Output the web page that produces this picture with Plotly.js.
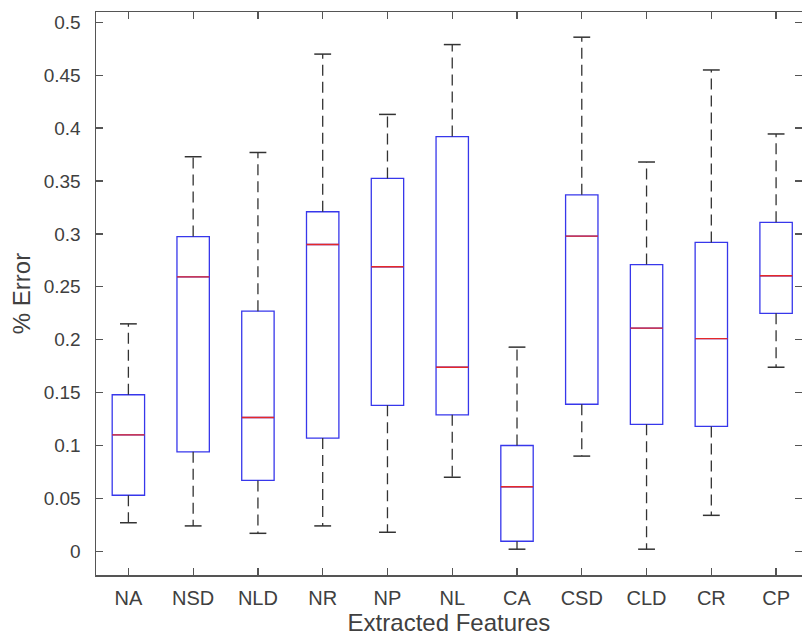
<!DOCTYPE html>
<html>
<head>
<meta charset="utf-8">
<script src="https://cdn.plot.ly/plotly-3.0.1.min.js"></script>
<style>html,body{margin:0;padding:0;background:#fff;}#chart{width:802px;height:639px;}</style>
</head>
<body>
<div id="chart"></div>
<script>
// Data
var categories = ['NA','NSD','NLD','NR','NP','NL','CA','CSD','CLD','CR','CP'];
var lowerWhisker = [0.027, 0.024, 0.017, 0.024, 0.018, 0.070, 0.002, 0.090, 0.002, 0.034, 0.174];
var q1Values     = [0.053, 0.094, 0.067, 0.107, 0.138, 0.129, 0.0095, 0.139, 0.120, 0.118, 0.225];
var medianValues = [0.110, 0.2595, 0.1265, 0.290, 0.269, 0.174, 0.061, 0.298, 0.211, 0.201, 0.2605];
var q3Values     = [0.148, 0.2975, 0.227, 0.321, 0.3525, 0.392, 0.100, 0.337, 0.271, 0.292, 0.311];
var upperWhisker = [0.215, 0.373, 0.377, 0.470, 0.413, 0.479, 0.193, 0.486, 0.368, 0.455, 0.3945];
var yTickValues  = [0, 0.05, 0.1, 0.15, 0.2, 0.25, 0.3, 0.35, 0.4, 0.45, 0.5];
var yTickLabels  = ['0','0.05','0.1','0.15','0.2','0.25','0.3','0.35','0.4','0.45','0.5'];

var positions = categories.map(function(c, i){ return i + 1; });
var boxHalf = 0.25, capHalf = 0.13;

var boxTrace = {
  type: 'box', x: positions, q1: q1Values, median: medianValues, q3: q3Values,
  lowerfence: q1Values, upperfence: q3Values,
  width: 2*boxHalf, whiskerwidth: 0, boxpoints: false,
  line: {color: 'rgb(55,55,235)', width: 1.3}, fillcolor: 'rgba(0,0,0,0)',
  hoverinfo: 'skip', showlegend: false
};

var wx = [], wy = [], cx = [], cy = [], mx = [], my = [];
positions.forEach(function(p, i){
  wx.push(p, p, null, p, p, null);
  wy.push(q3Values[i], upperWhisker[i], null, q1Values[i], lowerWhisker[i], null);
  cx.push(p-capHalf, p+capHalf, null, p-capHalf, p+capHalf, null);
  cy.push(upperWhisker[i], upperWhisker[i], null, lowerWhisker[i], lowerWhisker[i], null);
  mx.push(p-boxHalf, p+boxHalf, null);
  my.push(medianValues[i], medianValues[i], null);
});

var whiskers = {type:'scatter', mode:'lines', x: wx, y: wy, line:{color:'#333', width:1.3, dash:'11px,6px'}, hoverinfo:'skip', showlegend:false};
var caps = {type:'scatter', mode:'lines', x: cx, y: cy, line:{color:'#333', width:1.5}, hoverinfo:'skip', showlegend:false};
var medians = {type:'scatter', mode:'lines', x: mx, y: my, line:{color:'rgb(230,40,40)', width:1.3}, hoverinfo:'skip', showlegend:false};

var fontFam = 'Liberation Sans, Arial, sans-serif';
var layout = {
  width: 802, height: 639,
  margin: {l: 96, r: 0, t: 12, b: 64, pad: 0},
  paper_bgcolor: '#fff', plot_bgcolor: '#fff',
  font: {family: fontFam, size: 19, color: '#404040'},
  xaxis: {
    range: [0.5, 11.4], tickvals: positions, ticktext: categories,
    tickfont: {size: 20},
    ticks: 'inside', ticklen: 7, tickwidth: 1.3, tickcolor: '#555',
    showline: true, linecolor: '#555', linewidth: 1.5, mirror: 'ticks',
    showgrid: false, zeroline: false, ticklabelstandoff: 4,
    title: {text: 'Extracted Features', font: {size: 24, color: '#404040'}, standoff: 6}
  },
  yaxis: {
    range: [-0.0224, 0.5098], tickvals: yTickValues, ticktext: yTickLabels,
    ticks: 'inside', ticklen: 7, tickwidth: 1.3, tickcolor: '#555',
    showline: true, linecolor: '#555', linewidth: 1.5, mirror: 'ticks',
    showgrid: false, zeroline: false, ticklabelstandoff: 10,
    title: {text: '% Error', font: {size: 24, color: '#404040'}, standoff: 6}
  },
  showlegend: false
};

Plotly.newPlot('chart', [boxTrace, whiskers, caps, medians], layout, {displayModeBar: false, staticPlot: true});
</script>
</body>
</html>
